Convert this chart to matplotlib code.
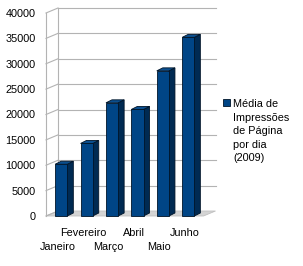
import matplotlib
matplotlib.use("Agg")
import matplotlib.pyplot as plt
from matplotlib.patches import Polygon, Rectangle
from matplotlib.transforms import IdentityTransform

# data
months = ["Janeiro", "Fevereiro", "Março", "Abril", "Maio", "Junho"]
views = [10200, 14300, 22300, 21000, 28600, 35200]
y_ticks = [0, 5000, 10000, 15000, 20000, 25000, 30000, 35000, 40000]
series_label = "Média de\nImpressões\nde Página\npor dia\n(2009)"

FRONT = "#004586"
SIDE = "#002a52"
TOP = "#0b4f8f"
EDGE = "#001428"
GRID = "#b3b3b3"
FONT = "Liberation Sans"

W, H = 303, 266
fig = plt.figure(figsize=(W / 100, H / 100), dpi=100)
ax = fig.add_axes([46 / W, (H - 216) / H, 157.5 / W, 203 / H])
ax.set_xlim(-0.6, 5.6)
ax.set_ylim(0, 40000)
for s in ax.spines.values():
    s.set_visible(False)
ax.patch.set_visible(False)

wall = (12, 5)   # depth of the back wall, pixels
depth = (6, 3)   # depth of each bar, pixels


def px(x, y):
    return ax.transData.transform((x, y))


def poly(pts, **kw):
    p = Polygon(pts, closed=True, transform=IdentityTransform(), **kw)
    fig.patches.append(p)
    return p


def seg(a, b):
    fig.lines.append(plt.Line2D([a[0], b[0]], [a[1], b[1]], color=GRID,
                                linewidth=0.8, transform=IdentityTransform()))


def shift(p, d):
    return (p[0] + d[0], p[1] + d[1])


# floor
x0, x1 = ax.get_xlim()
f0, f1 = px(x0, 0), px(x1, 0)
poly([f0, f1, shift(f1, wall), shift(f0, wall)], facecolor="#d4d4d4",
     edgecolor="#c0c0c0", linewidth=0.6, zorder=1)

# left wall edges, back wall grid, connectors
top0 = px(x0, y_ticks[-1])
seg(f0, top0)
seg(shift(f0, wall), shift(top0, wall))
for t in y_ticks:
    a = px(x0, t)
    b = shift(a, wall)
    seg(a, b)
    if t > 0:
        seg(b, shift(px(x1, t), wall))

# 3d bars
bw = 0.48
for i, v in enumerate(views):
    bl, br = px(i - bw / 2, 0), px(i + bw / 2, 0)
    tl, tr = px(i - bw / 2, v), px(i + bw / 2, v)
    poly([br, tr, shift(tr, depth), shift(br, depth)], facecolor=SIDE,
         edgecolor=EDGE, linewidth=0.6, zorder=3)
    poly([tl, tr, shift(tr, depth), shift(tl, depth)], facecolor=TOP,
         edgecolor=EDGE, linewidth=0.6, zorder=3)
    poly([bl, br, tr, tl], facecolor=FRONT, edgecolor=EDGE, linewidth=0.6,
         zorder=4)

# axis labels
ax.set_yticks(y_ticks)
ax.set_yticklabels([str(t) for t in y_ticks], fontname=FONT, fontsize=7.8)
ax.tick_params(axis="y", length=0, pad=7.5)
ax.set_xticks([])

# category labels, staggered on two rows
for i, m in enumerate(months):
    drop = 16.5 if i % 2 else 31.5
    ax.annotate(m, xy=(i - 0.14, 0), xycoords=("data", "axes fraction"),
                xytext=(0, -drop), textcoords="offset pixels",
                ha="center", va="center", fontname=FONT, fontsize=7.8)

# legend
fig.patches.append(Rectangle((222.5, H - 106), 7, 7, facecolor=FRONT,
                             edgecolor=EDGE, linewidth=0.6,
                             transform=IdentityTransform()))
fig.text(233 / W, (H - 99) / H, series_label, fontname=FONT, fontsize=7.8,
         va="top", ha="left", linespacing=1.45)

fig.savefig("out.png", dpi=100)
